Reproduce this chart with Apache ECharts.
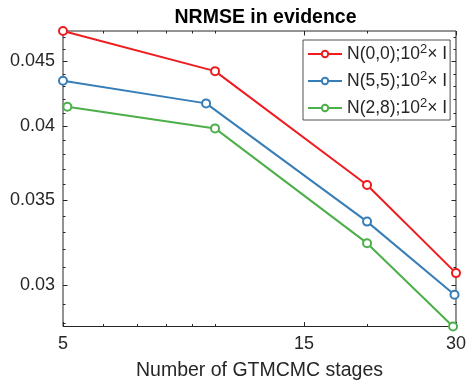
<!DOCTYPE html>
<html>
<head>
<meta charset="utf-8">
<script src="https://cdn.jsdelivr.net/npm/echarts@6/dist/echarts.min.js"></script>
<style>
  html, body { margin: 0; padding: 0; background: #fff; }
  #chart { width: 469px; height: 386px; }
</style>
</head>
<body>
<div id="chart"></div>
<script>
// Number of GTMCMC stages used for each prior setting
const stagesA = [5, 10, 20, 30];
const stagesB = [5, 9.6, 20, 29.8];
const stagesC = [5.1, 10, 20, 29.6];

// NRMSE in the evidence estimate
const nrmseA = [0.04756, 0.04422, 0.03597, 0.03066];
const nrmseB = [0.04345, 0.04171, 0.03366, 0.02948];
const nrmseC = [0.04145, 0.03986, 0.03237, 0.02783];

const seriesNames = ['N(0,0);10{s|2}× I', 'N(5,5);10{s|2}× I', 'N(2,8);10{s|2}× I'];
const seriesKeys = ['N(0,0)', 'N(5,5)', 'N(2,8)'];
const seriesColors = ['#ee1c1f', '#377eb8', '#4daf4a'];

// Axis ticks
const xTicks = [5, 15, 30];
const xMinorTicks = [6, 7, 8, 9, 10, 20];
const yTicks = [0.03, 0.035, 0.04, 0.045];
const yMinorTicks = [0.028, 0.029, 0.031, 0.032, 0.033, 0.034, 0.036, 0.037,
                     0.038, 0.039, 0.041, 0.042, 0.043, 0.044, 0.046, 0.047];

const xRange = [5, 30];
const yRange = [0.02783, 0.04756];

const INK = '#262626';
const FONT = 'Liberation Sans, Arial, sans-serif';

function pairs(xs, ys) { return xs.map((x, i) => [x, ys[i]]); }

function xAxisDef(pos, ticks, len, labels) {
  return {
    type: 'log', logBase: 10, position: pos, min: xRange[0], max: xRange[1],
    axisLine: { show: false },
    splitLine: { show: false },
    axisTick: { show: true, inside: true, length: len, customValues: ticks,
                lineStyle: { color: INK, width: 1 } },
    axisLabel: { show: labels, customValues: ticks, color: INK, fontSize: 18,
                 fontFamily: FONT, margin: 9, formatter: v => String(+(+v).toPrecision(6)) }
  };
}
function yAxisDef(pos, ticks, len, labels) {
  return {
    type: 'log', logBase: 10, position: pos, min: yRange[0], max: yRange[1],
    axisLine: { show: false },
    splitLine: { show: false },
    axisTick: { show: true, inside: true, length: len, customValues: ticks,
                lineStyle: { color: INK, width: 1 } },
    axisLabel: { show: labels, customValues: ticks, color: INK, fontSize: 18,
                 fontFamily: FONT, margin: 8, formatter: v => String(+(+v).toPrecision(6)) }
  };
}

const xAxes = [
  xAxisDef('bottom', xTicks, 4.5, true),
  xAxisDef('bottom', xMinorTicks, 2.5, false),
  xAxisDef('top', xTicks, 4.5, false),
  xAxisDef('top', xMinorTicks, 2.5, false)
];
xAxes[0].name = 'Number of GTMCMC stages';
xAxes[0].nameLocation = 'middle';
xAxes[0].nameGap = 34;
xAxes[0].nameTextStyle = { color: INK, fontSize: 19.5, fontFamily: FONT };

const yAxes = [
  yAxisDef('left', yTicks, 4.5, true),
  yAxisDef('left', yMinorTicks, 2.5, false),
  yAxisDef('right', yTicks, 4.5, false),
  yAxisDef('right', yMinorTicks, 2.5, false)
];

const xs = [stagesA, stagesB, stagesC];
const ys = [nrmseA, nrmseB, nrmseC];

const chart = echarts.init(document.getElementById('chart'), null, { renderer: 'canvas' });
chart.setOption({
  animation: false,
  backgroundColor: '#fff',
  title: {
    text: 'NRMSE in evidence',
    left: 260.5, top: 3, textAlign: 'center',
    textStyle: { fontSize: 19.5, fontWeight: 'bold', color: '#000', fontFamily: FONT }
  },
  grid: { left: 63, top: 31, width: 395, height: 295.5, show: true,
          borderColor: INK, borderWidth: 1, backgroundColor: 'transparent' },
  legend: {
    orient: 'vertical', left: 303, top: 40,
    padding: [3, 3, 1, 4],
    itemWidth: 34, itemHeight: 8, itemGap: 5,
    backgroundColor: '#fff', borderColor: INK, borderWidth: 0.8, borderRadius: 0,
    data: seriesKeys,
    formatter: name => seriesNames[seriesKeys.indexOf(name)],
    textStyle: {
      color: INK, fontSize: 17.5, fontFamily: FONT, lineHeight: 22,
      rich: { s: { fontSize: 13, verticalAlign: 'top', lineHeight: 13, padding: [0, 0, 8, 0], fontFamily: FONT, color: INK } }
    }
  },
  xAxis: xAxes,
  yAxis: yAxes,
  series: seriesKeys.map((k, i) => ({
    name: k, type: 'line', xAxisIndex: 0, yAxisIndex: 0,
    data: pairs(xs[i], ys[i]),
    symbol: 'emptyCircle', symbolSize: 8,
    lineStyle: { color: seriesColors[i], width: 2 },
    itemStyle: { color: seriesColors[i], borderWidth: 1.8 },
    clip: false
  }))
});
</script>
</body>
</html>
